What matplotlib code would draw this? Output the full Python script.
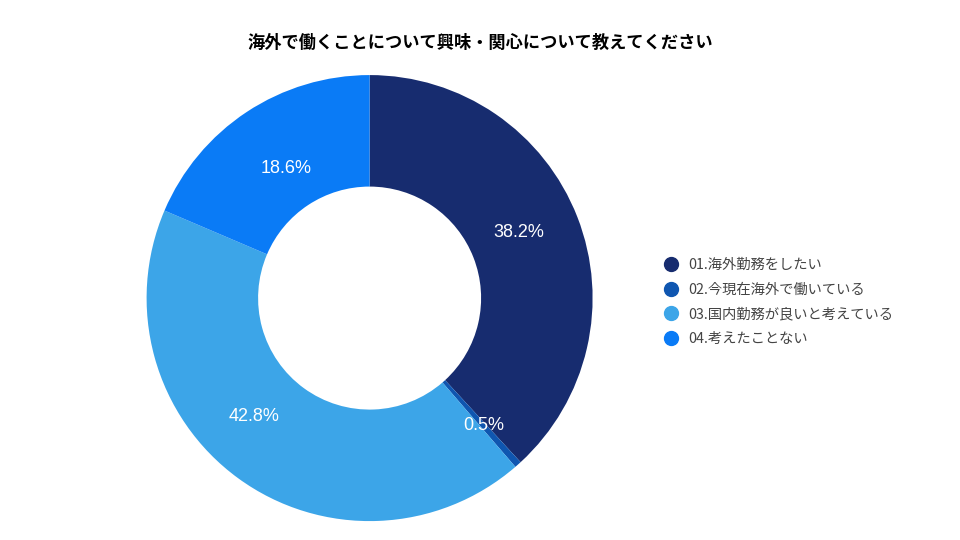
import matplotlib
matplotlib.use("Agg")
from matplotlib import pyplot as plt
from matplotlib.lines import Line2D

plt.rcParams['font.family'] = ['Noto Sans CJK JP', 'DejaVu Sans']

labels = ['01.海外勤務をしたい', '02.今現在海外で働いている', '03.国内勤務が良いと考えている', '04.考えたことない']
values = [38.2, 0.5, 42.8, 18.6]
colors = ['#172c6f', '#0f56b0', '#3ca5e8', '#0a7bf6']
title = '海外で働くことについて興味・関心について教えてください'

# where the percentage labels sit in the reference (fraction of the outer radius)
label_pos = [(0.67, 0.296), (0.511, -0.570), (-0.516, -0.530), (-0.375, 0.583)]

fig = plt.figure(figsize=(9.6, 5.4), dpi=100)
ax = fig.add_axes([0.385 - 0.2323, 0.448 - 0.413, 0.4646, 0.826])

wedges, texts, autotexts = ax.pie(values, colors=colors, startangle=90, counterclock=False,
                                  autopct='%.1f%%', pctdistance=0.75,
                                  wedgeprops=dict(width=0.5, linewidth=0),
                                  textprops=dict(color='white', fontsize=13, family=['Liberation Sans', 'DejaVu Sans']))
for t, p in zip(autotexts, label_pos):
    t.set_position(p)
ax.set_xlim(-1, 1)
ax.set_ylim(-1, 1)
ax.set_aspect('equal')

fig.text(0.5, 0.92, title, ha='center', va='center', fontsize=12.4, fontweight='bold', color='black')

handles = [Line2D([0], [0], marker='o', linestyle='', markersize=10, markerfacecolor=c, markeredgecolor=c)
           for c in colors]
leg = fig.legend(handles, labels, loc='upper left', bbox_to_anchor=(0.684, 0.533), frameon=False,
                 fontsize=10.3, labelspacing=0.75, handletextpad=0.6, borderaxespad=0, handlelength=1.2)
for t in leg.get_texts():
    t.set_color('#444444')

fig.savefig('out.png', dpi=100)
